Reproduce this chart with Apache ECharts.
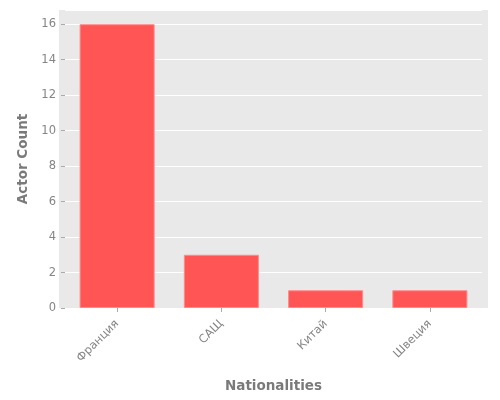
<!DOCTYPE html>
<html>
<head>
<meta charset="utf-8">
<script src="https://cdn.jsdelivr.net/npm/echarts@6/dist/echarts.min.js"></script>
<style>
  html, body { margin: 0; padding: 0; background: #fff; }
  #main { width: 500px; height: 400px; }
</style>
</head>
<body>
<div id="main"></div>
<script>
// данни
var categories = ['Франция', 'САЩ', 'Китай', 'Швеция'];
var actorCounts = [16, 3, 1, 1];
var yTicks = [0, 2, 4, 6, 8, 10, 12, 14, 16];

var chart = echarts.init(document.getElementById('main'));

var option = {
    backgroundColor: '#ffffff',
    textStyle: { fontFamily: 'DejaVu Sans' },
    animation: false,
    // сив фон на графиката (ggplot стил)
    graphic: {
        elements: [{
            type: 'rect',
            z: -10,
            silent: true,
            shape: { x: 59, y: 10, width: 429, height: 298 },
            style: { fill: '#e9e9e9' }
        }]
    },
    grid: {
        left: 65,
        right: 18,
        top: 10,
        bottom: 92
    },
    xAxis: {
        type: 'category',
        data: categories,
        name: 'Nationalities',
        nameLocation: 'middle',
        nameGap: 71,
        nameTextStyle: { color: '#7a7a7a', fontSize: 13.5, fontWeight: 'bold' },
        axisLine: { show: false },
        axisTick: { show: true, alignWithLabel: true, length: 4, lineStyle: { color: '#aaa' } },
        axisLabel: { rotate: 45, color: '#858585', fontSize: 11.5, margin: 14 },
        splitLine: { show: false }
    },
    yAxis: {
        type: 'value',
        min: 0,
        max: 16.8,
        interval: 2,
        name: 'Actor Count',
        nameLocation: 'middle',
        nameGap: 33,
        nameTextStyle: { color: '#7a7a7a', fontSize: 13.5, fontWeight: 'bold' },
        axisLine: { show: false },
        axisTick: { show: true, length: 4, lineStyle: { color: '#aaa' } },
        axisLabel: {
            color: '#858585',
            fontSize: 11.5,
            margin: 9,
            showMaxLabel: false,
            formatter: function (v) { return yTicks.indexOf(v) >= 0 ? String(v) : ''; }
        },
        splitLine: { show: true, lineStyle: { color: '#ffffff', width: 1 } }
    },
    series: [{
        name: 'Actor Count',
        type: 'bar',
        data: actorCounts,
        barWidth: '72%',
        itemStyle: {
            color: '#ff5555',
            borderColor: '#ff8a8a',
            borderWidth: 1
        }
    }]
};

chart.setOption(option);
</script>
</body>
</html>
